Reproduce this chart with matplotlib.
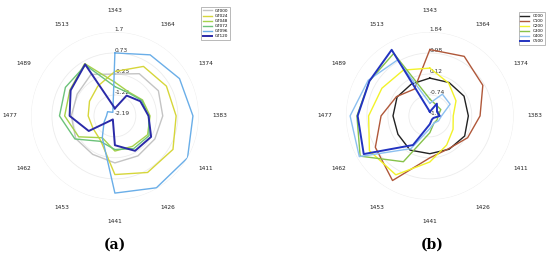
import numpy as np
import matplotlib
matplotlib.use('Agg')
import matplotlib.pyplot as plt

# wavenumber categories, clockwise from the top
categories = ['1343', '1364', '1374', '1383', '1411', '1426',
              '1441', '1453', '1462', '1477', '1489', '1513']

# panel (a)
names_a = ['GT000', 'GT024', 'GT048', 'GT072', 'GT096', 'GT120']
gt000 = [-0.25, 0.07, 0.14, 0.03, -0.05, -0.05, -0.01, -0.13, -0.09, -0.17, -0.17, 0.03]
gt024 = [-0.13, 0.46, 0.57, 0.65, 0.92, 0.84, 0.53, -0.87, -1.02, -0.95, -0.83, -0.60]
gt048 = [-0.63, -0.91, -0.71, -0.56, -0.44, -0.56, -0.56, -1.02, -0.25, 0.14, 0.22, 0.61]
gt072 = [-0.83, -0.95, -0.75, -0.63, -0.36, -0.44, -0.63, -0.83, -0.05, 0.38, 0.46, 0.53]
gt096 = [0.73, 1.08, 1.27, 1.43, 1.70, 1.66, 1.39, -1.02, -1.61, -1.80, -1.80, -2.00]
gt120 = [-1.84, -1.10, -0.83, -0.63, -0.25, -0.32, -0.83, -2.00, -0.79, -0.09, 0.18, 0.57]
rticks_a = [-2.19, -1.22, -0.25, 0.73, 1.7]
rlabels_a = ['-2.19', '-1.22', '-0.25', '0.73', '1.7']

# panel (b)
names_b = ['C000', 'C100', 'C200', 'C300', 'C400', 'C500']
c000 = [-0.05, -0.02, 0.02, -0.02, 0.05, -0.02, -0.05, 0.02, -0.09, -0.09, -0.05, -0.09]
c100 = [1.12, 1.22, 0.91, 0.46, 0.19, -0.05, 0.12, 1.46, 0.98, 0.40, -0.02, -0.33]
c200 = [0.36, -0.05, -0.36, -0.64, -0.50, -0.22, 0.29, 1.19, 1.26, 0.91, 0.67, 0.57]
c300 = [-0.91, -1.08, -1.08, -1.26, -1.26, -1.26, -0.91, 0.57, 1.70, 1.39, 1.26, 1.36]
c400 = [-1.08, -0.57, -0.64, -1.12, -1.19, -1.26, -1.08, -0.05, 1.74, 1.67, 1.32, 1.05]
c500 = [-1.43, -1.02, -1.26, -1.19, -1.43, -1.43, -1.26, -0.22, 1.53, 1.36, 1.26, 1.53]
rticks_b = [-1.6, -0.74, 0.12, 0.98, 1.84]
rlabels_b = ['-1.6', '-0.74', '0.12', '0.98', '1.84']

colors_a = ['#c4c4c4', '#d6d63a', '#a6d24a', '#6cc27a', '#6aaee8', '#2a2aa8']
colors_b = ['#222222', '#b0583a', '#f2f22a', '#86c24a', '#8cc0f0', '#2233c0']
widths = [1.0, 1.0, 1.0, 1.0, 1.0, 1.4]

angles = np.linspace(0, 2 * np.pi, len(categories), endpoint=False)
closed = np.append(angles, angles[0])

fig = plt.figure(figsize=(5.5, 2.59), dpi=100)


def radar(rect, series, names, colors, rticks, rlabels, anchor):
    ax = fig.add_axes(rect, projection='polar')
    ax.set_theta_zero_location('N')
    ax.set_theta_direction(-1)
    for vals, name, col, lw in zip(series, names, colors, widths):
        v = np.append(vals, vals[0])
        ax.plot(closed, v, color=col, lw=lw, label=name)
    ax.set_ylim(rticks[0], rticks[-1])
    ax.set_yticks(rticks)
    ax.set_yticklabels(rlabels, fontsize=4.2, color='#333333')
    ax.set_rlabel_position(0)
    ax.set_xticks(angles)
    ax.set_xticklabels(categories, fontsize=4.2, color='#222222')
    ax.tick_params(axis='x', pad=5)
    ax.grid(True, color='#ececec', lw=0.6)
    ax.xaxis.grid(False)
    ax.spines['polar'].set_visible(False)
    leg = ax.legend(loc='upper right', bbox_to_anchor=anchor, fontsize=3,
                    frameon=True, fancybox=False, edgecolor='#999999',
                    handlelength=2.2, labelspacing=0.25, borderpad=0.4)
    leg.get_frame().set_linewidth(0.6)
    return ax


radar([0.0564, 0.228, 0.305, 0.649], [gt000, gt024, gt048, gt072, gt096, gt120],
      names_a, colors_a, rticks_a, rlabels_a, (1.2, 1.16))
radar([0.629, 0.228, 0.305, 0.649], [c000, c100, c200, c300, c400, c500],
      names_b, colors_b, rticks_b, rlabels_b, (1.2, 1.13))

fig.text(115 / 550, 1 - 245 / 259, '(a)', fontsize=10, fontweight='bold',
         family='DejaVu Serif', ha='center', va='center')
fig.text(432 / 550, 1 - 245 / 259, '(b)', fontsize=10, fontweight='bold',
         family='DejaVu Serif', ha='center', va='center')

fig.savefig('out.png', dpi=100)
